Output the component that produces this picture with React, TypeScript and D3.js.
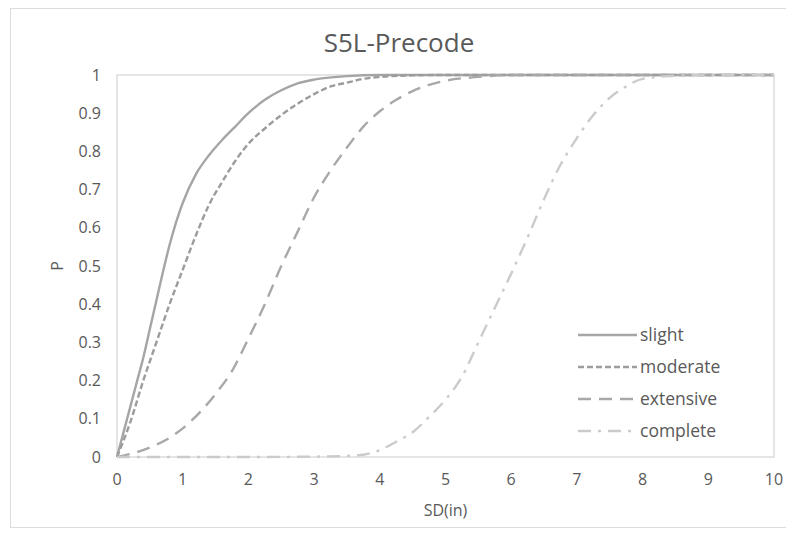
import React from "react";
import * as d3 from "d3";

// Fragility curves: probability of reaching each damage state vs. spectral displacement
const sdSlight = [0, 0.1, 0.2, 0.3, 0.4, 0.5, 0.6, 0.7, 0.8, 0.9, 1.0, 1.2, 1.4, 1.6, 1.8, 2.0, 2.25, 2.5, 2.75, 3.0, 3.5, 4, 5, 6, 7, 8, 9, 10];
const pSlight = [0, 0.065, 0.13, 0.195, 0.26, 0.335, 0.41, 0.485, 0.555, 0.615, 0.665, 0.74, 0.79, 0.83, 0.865, 0.9, 0.935, 0.96, 0.978, 0.988, 0.997, 1, 1, 1, 1, 1, 1, 1];

const sdModerate = [0, 0.2, 0.4, 0.6, 0.8, 1.0, 1.2, 1.4, 1.6, 1.8, 2.0, 2.25, 2.5, 2.75, 3.0, 3.25, 3.5, 3.75, 4, 4.5, 5, 6, 7, 8, 9, 10];
const pModerate = [0, 0.09, 0.2, 0.3, 0.4, 0.49, 0.58, 0.66, 0.72, 0.775, 0.82, 0.86, 0.895, 0.925, 0.95, 0.97, 0.98, 0.99, 0.995, 0.999, 1, 1, 1, 1, 1, 1];

const sdExtensive = [0, 0.25, 0.5, 0.75, 1.0, 1.25, 1.5, 1.75, 2.0, 2.25, 2.5, 2.75, 3.0, 3.25, 3.5, 3.75, 4.0, 4.25, 4.5, 4.75, 5.0, 5.5, 6, 7, 8, 9, 10];
const pExtensive = [0, 0.01, 0.025, 0.045, 0.075, 0.115, 0.165, 0.225, 0.31, 0.4, 0.5, 0.59, 0.68, 0.75, 0.81, 0.865, 0.905, 0.935, 0.958, 0.974, 0.985, 0.995, 1, 1, 1, 1, 1];

const sdComplete = [0, 1, 2, 3, 3.5, 3.75, 4.0, 4.25, 4.5, 4.75, 5.0, 5.25, 5.5, 5.75, 6.0, 6.25, 6.5, 6.75, 7.0, 7.25, 7.5, 7.75, 8.0, 8.5, 9, 10];
const pComplete = [0, 0, 0, 0.001, 0.003, 0.006, 0.018, 0.04, 0.065, 0.105, 0.15, 0.21, 0.3, 0.39, 0.48, 0.575, 0.675, 0.765, 0.835, 0.895, 0.94, 0.97, 0.99, 0.998, 1, 1];

const seriesNames = ["slight", "moderate", "extensive", "complete"];
const xTicks = [0, 1, 2, 3, 4, 5, 6, 7, 8, 9, 10];
const yTicks = [0, 0.1, 0.2, 0.3, 0.4, 0.5, 0.6, 0.7, 0.8, 0.9, 1];

const FONT = "'Open Sans', 'Noto Sans', sans-serif";
const TEXT = "#595959";

export default function App() {
  const W = 786;
  const H = 533;
  const left = 117;
  const right = 774;
  const top = 75;
  const bottom = 457;

  const x = d3.scaleLinear().domain([0, 10]).range([left, right]);
  const y = d3.scaleLinear().domain([0, 1]).range([bottom, top]);

  const line = d3
    .line<[number, number]>()
    .x((d) => x(d[0]))
    .y((d) => y(d[1]))
    .curve(d3.curveMonotoneX);

  const series = [
    { name: seriesNames[0], xs: sdSlight, ps: pSlight, color: "#a5a5a5", dash: "none" },
    { name: seriesNames[1], xs: sdModerate, ps: pModerate, color: "#9c9c9c", dash: "6,3" },
    { name: seriesNames[2], xs: sdExtensive, ps: pExtensive, color: "#a8a8a8", dash: "13,8" },
    { name: seriesNames[3], xs: sdComplete, ps: pComplete, color: "#cbcbcb", dash: "13,7,3,7" },
  ];

  const legendX0 = 578;
  const legendX1 = 637;
  const legendY = d3.scalePoint<string>().domain(seriesNames).range([335, 431]);

  return (
    <svg
      width={W}
      height={H}
      style={{ position: "absolute", left: 0, top: 0, background: "#fff" }}
      fontFamily={FONT}
    >
      <rect x={10.5} y={8.5} width={790} height={519} fill="#fff" stroke="#dcdcdc" />

      <text x={399} y={52} textAnchor="middle" fontSize={26} fill={TEXT}>
        S5L-Precode
      </text>

      {/* plot area frame */}
      <rect x={left} y={top} width={right - left} height={bottom - top} fill="none" stroke="#d4d4d4" strokeWidth={1.2} />

      {yTicks.map((t) => (
        <text key={`y${t}`} x={101} y={y(t)} dy="0.35em" textAnchor="end" fontSize={16} fill={TEXT}>
          {d3.format("~g")(t)}
        </text>
      ))}
      {xTicks.map((t) => (
        <text key={`x${t}`} x={x(t)} y={485} textAnchor="middle" fontSize={16} fill={TEXT}>
          {t}
        </text>
      ))}

      <text x={(left + right) / 2} y={516} textAnchor="middle" fontSize={16} fill={TEXT}>
        SD(in)
      </text>
      <text
        transform={`translate(63, ${(top + bottom) / 2}) rotate(-90)`}
        textAnchor="middle"
        fontSize={16}
        fill={TEXT}
      >
        P
      </text>

      {series.map((s) => (
        <path
          key={s.name}
          d={line(s.xs.map((v, i) => [v, s.ps[i]] as [number, number])) || ""}
          fill="none"
          stroke={s.color}
          strokeWidth={2.4}
          strokeDasharray={s.dash}
        />
      ))}

      {series.map((s) => (
        <g key={`lg-${s.name}`}>
          <line
            x1={legendX0}
            x2={legendX1}
            y1={legendY(s.name)}
            y2={legendY(s.name)}
            stroke={s.color}
            strokeWidth={2.4}
            strokeDasharray={s.dash}
          />
          <text x={legendX1 + 3} y={legendY(s.name)} dy="0.35em" fontSize={17.5} fill={TEXT}>
            {s.name}
          </text>
        </g>
      ))}
    </svg>
  );
}
